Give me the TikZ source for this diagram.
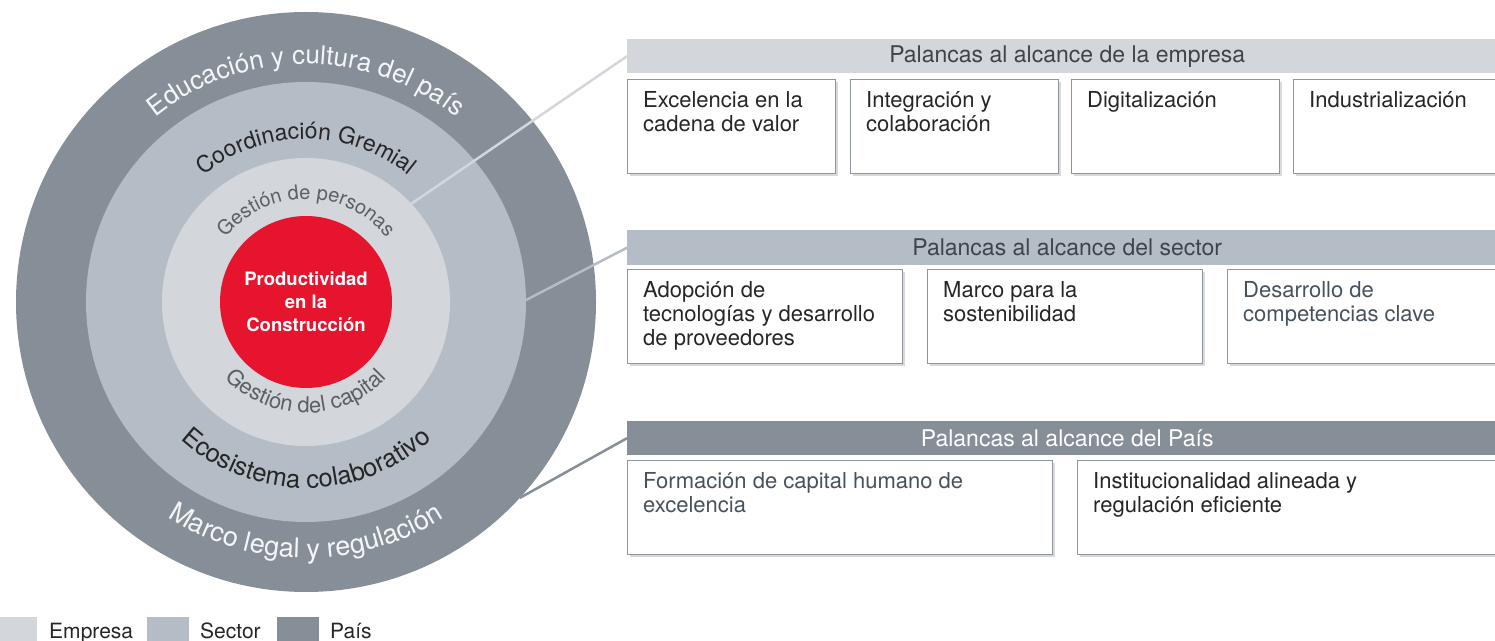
\documentclass[tikz,border=0pt]{standalone}
\usepackage{fontspec}
\setmainfont{TeX Gyre Heros}
\usepackage{tikz}
\usetikzlibrary{calc}
\usetikzlibrary{decorations.text,shadows}
\usepackage{xcolor}
\definecolor{pais}{HTML}{868F98}
\definecolor{sector}{HTML}{B4BDC5}
\definecolor{empresa}{HTML}{D3D7DC}
\definecolor{rojo}{HTML}{E6142D}
\definecolor{borde}{HTML}{8E959C}
\definecolor{txtgris}{HTML}{5A6066}
\definecolor{txtazul}{HTML}{48525C}
\definecolor{txtcab}{HTML}{3E444A}
\tikzstyle{header}=[anchor=north west,minimum width=880pt,minimum height=34pt,inner sep=0pt,font=\fontsize{23}{23}\selectfont]
\tikzstyle{box}=[draw=borde,line width=1.2pt,fill=white,anchor=north west,minimum height=94pt,inner sep=0pt,drop shadow={shadow xshift=2pt,shadow yshift=-2.5pt,opacity=0.3}]
\tikzstyle{boxtext}=[anchor=north west,align=left,inner sep=0pt,font=\fontsize{22}{24}\selectfont,text=black!85]
\tikzstyle{link}=[line width=2.5pt]
\tikzstyle{legendbox}=[anchor=north west,minimum width=40pt,minimum height=33pt,inner sep=0pt]
\tikzstyle{legendtext}=[anchor=base west,inner sep=0pt,font=\fontsize{21}{21}\selectfont,text=black!85]

\begin{document}
\begin{tikzpicture}[x=1pt,y=1pt]
    \useasboundingbox (0,0) rectangle (1495,640);

    % anillos
    \coordinate (c) at (306,338);
    \fill[pais] (c) circle[radius=290pt];
    \fill[sector] (c) circle[radius=220pt];
    \fill[empresa] (c) circle[radius=144pt];
    \node[circle,fill=rojo,minimum size=172pt,inner sep=0pt,align=center,text=white,font=\bfseries\fontsize{18.5}{23}\selectfont] (prod) at (c) {Productividad\\en la\\Construcción};

    \path[decorate,decoration={text along path,text align=center,text color=white!92!pais,text={|\fontsize{26}{26}\selectfont|Educación y cultura del país}}] ($(c)+(180:238pt)$) arc[start angle=180,end angle=0,radius=238pt];
    \path[decorate,decoration={text along path,text align=center,text color=white!92!pais,text={|\fontsize{27}{27}\selectfont|Marco legal y regulación}}] ($(c)+(-180:256pt)$) arc[start angle=-180,end angle=0,radius=256pt];
    \path[decorate,decoration={text along path,text align=center,text color=black!85,text={|\fontsize{23}{23}\selectfont|Coordinación Gremial}}] ($(c)+(180:163pt)$) arc[start angle=180,end angle=0,radius=163pt];
    \path[decorate,decoration={text along path,text align=center,text color=black!85,text={|\fontsize{25.5}{25.5}\selectfont|Ecosistema colaborativo}}] ($(c)+(-180:186pt)$) arc[start angle=-180,end angle=0,radius=186pt];
    \path[decorate,decoration={text along path,text align=center,text color=txtgris,text={|\fontsize{20}{20}\selectfont|Gestión de personas}}] ($(c)+(180:103pt)$) arc[start angle=180,end angle=0,radius=103pt];
    \path[decorate,decoration={text along path,text align=center,text color=txtgris,text={|\fontsize{22}{22}\selectfont|Gestión del capital}}] ($(c)+(-180:111pt)$) arc[start angle=-180,end angle=0,radius=111pt];

    \coordinate (pE) at ($(c)+(43:144pt)$);
    \coordinate (pS) at ($(c)+(0.5:220pt)$);
    \coordinate (pP) at ($(c)+(-42.5:290pt)$);

    % palancas
    \node[header,fill=empresa,text=txtcab] (hEmp) at (627,601) {Palancas al alcance de la empresa};
    \node[header,fill=sector,text=txtcab,minimum height=35pt] (hSec) at (627,410) {Palancas al alcance del sector};
    \node[header,fill=pais,text=white] (hPais) at (627,219) {Palancas al alcance del País};

    \draw[link,empresa] (pE) -- (hEmp.west);
    \draw[link,sector] (pS) -- (hSec.west);
    \draw[link,pais] (pP) -- (hPais.west);

    \node[box,minimum width=208pt] (e1) at (627,561) {};
    \node[box,minimum width=208pt] (e2) at (850,561) {};
    \node[box,minimum width=208pt] (e3) at (1071,561) {};
    \node[box,minimum width=220pt] (e4) at (1293,561) {};
    \node[boxtext] (te1) at ($(e1.north west)+(16,-12)$) {Excelencia en la\\cadena de valor};
    \node[boxtext] (te2) at ($(e2.north west)+(16,-12)$) {Integración y\\colaboración};
    \node[boxtext] (te3) at ($(e3.north west)+(16,-12)$) {Digitalización};
    \node[boxtext] (te4) at ($(e4.north west)+(16,-12)$) {Industrialización};

    \node[box,minimum width=275pt] (s1) at (627,371) {};
    \node[box,minimum width=275pt] (s2) at (927,371) {};
    \node[box,minimum width=285pt] (s3) at (1227,371) {};
    \node[boxtext] (ts1) at ($(s1.north west)+(16,-12)$) {Adopción de\\tecnologías y desarrollo\\de proveedores};
    \node[boxtext] (ts2) at ($(s2.north west)+(16,-12)$) {Marco para la\\sostenibilidad};
    \node[boxtext,text=txtazul] (ts3) at ($(s3.north west)+(16,-12)$) {Desarrollo de\\competencias clave};

    \node[box,minimum width=425pt] (p1) at (627,180) {};
    \node[box,minimum width=430pt] (p2) at (1077,180) {};
    \node[boxtext,text=txtazul] (tp1) at ($(p1.north west)+(16,-12)$) {Formación de capital humano de\\excelencia};
    \node[boxtext] (tp2) at ($(p2.north west)+(16,-12)$) {Institucionalidad alineada y\\regulación eficiente};

    % leyenda
    \node[legendbox,fill=empresa,minimum width=37pt] (lE) at (0,23) {};
    \node[legendbox,fill=sector,minimum width=42pt] (lS) at (147,23) {};
    \node[legendbox,fill=pais,minimum width=42pt] (lP) at (277,23) {};
    \node[legendtext] (tE) at (49,2) {Empresa};
    \node[legendtext] (tS) at (200,2) {Sector};
    \node[legendtext] (tP) at (330,2) {País};
\end{tikzpicture}
\end{document}
